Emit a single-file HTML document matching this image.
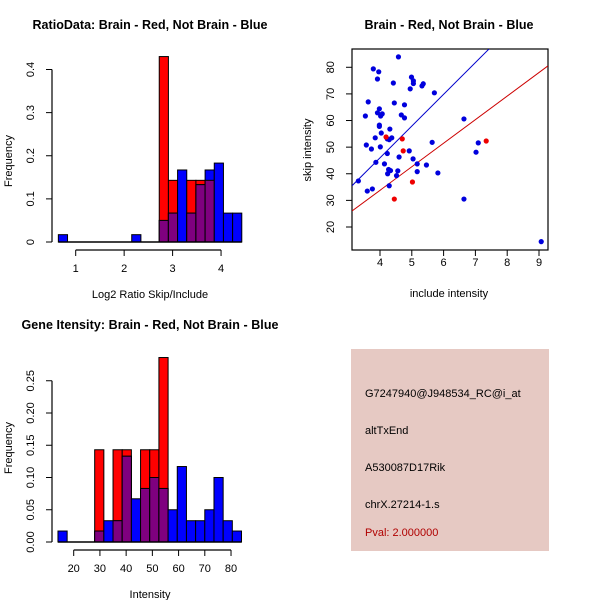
<!DOCTYPE html>
<html><head><meta charset="utf-8"><style>
html,body{margin:0;padding:0;background:#fff}
svg{display:block;font-family:"Liberation Sans",sans-serif}
</style></head><body>
<svg id="s" width="600" height="600" xmlns="http://www.w3.org/2000/svg">
<text x="150" y="29" font-size="12.5" font-weight="bold" text-anchor="middle" textLength="235">RatioData: Brain - Red, Not Brain - Blue</text>
<text x="449" y="29" font-size="12.5" font-weight="bold" text-anchor="middle" textLength="169">Brain - Red, Not Brain - Blue</text>
<text x="150" y="329" font-size="12.5" font-weight="bold" text-anchor="middle" textLength="257">Gene Itensity: Brain - Red, Not Brain - Blue</text>
<text x="150" y="298" font-size="11" text-anchor="middle">Log2 Ratio Skip/Include</text>
<text x="150" y="598" font-size="11" text-anchor="middle">Intensity</text>
<text x="449" y="297" font-size="11" text-anchor="middle">include intensity</text>
<text transform="translate(12,161) rotate(-90)" font-size="11" text-anchor="middle">Frequency</text>
<text transform="translate(12,448) rotate(-90)" font-size="11" text-anchor="middle">Frequency</text>
<text transform="translate(311,150) rotate(-90)" font-size="11" text-anchor="middle">skip intensity</text>
<g>
<rect x="351" y="349" width="198" height="202" fill="#e6c9c3"/>
<text x="365" y="397" font-size="11">G7247940@J948534_RC@i_at</text>
<text x="365" y="434" font-size="11">altTxEnd</text>
<text x="365" y="471" font-size="11">A530087D17Rik</text>
<text x="365" y="508" font-size="11">chrX.27214-1.s</text>
<text x="365" y="536" font-size="11" fill="#b00000">Pval: 2.000000</text>
</g>
</svg>
<script>
// ---- Ratio histogram data ----
const ratioBinStart = 0.642;
const ratioBinWidth = 0.1893;
const ratioRed =  [0,0,0,0,0,0,0,0,0,0,0,0.43,0.143,0,0.143,0.143,0.143,0,0,0];
const ratioBlue = [0.017,0,0,0,0,0,0,0,0.017,0,0,0.05,0.067,0.167,0.067,0.133,0.167,0.183,0.067,0.067];
const ratioXTicks = [1,2,3,4];
const ratioYTicks = [0,0.1,0.2,0.3,0.4];
// ---- Intensity histogram data ----
const intBinStart = 14;
const intBinWidth = 3.5;
const intRed =  [0,0,0,0,0.143,0,0.143,0.143,0,0.143,0.143,0.286,0,0,0,0,0,0,0,0];
const intBlue = [0.017,0,0,0,0.017,0.033,0.033,0.133,0.067,0.083,0.1,0.083,0.05,0.117,0.033,0.033,0.05,0.1,0.033,0.017];
const intXTicks = [20,30,40,50,60,70,80];
const intYTicks = ["0.00","0.05","0.10","0.15","0.20","0.25"];
// ---- Scatter data ----
const blueX = [4.58,3.79,3.96,3.92,4.42,4.99,5.05,5.05,4.95,5.36,5.32,5.71,3.63,4.45,4.77,3.54,3.92,3.98,4.02,4.07,4.67,4.77,3.98,3.98,4.31,4.04,3.85,4.23,4.37,4.29,3.57,4.01,3.73,4.23,4.92,4.6,5.04,3.87,4.14,5.17,5.46,4.27,4.33,4.56,5.17,4.24,5.82,4.52,3.32,4.29,3.76,3.6,6.64,6.64,5.64,7.09,7.02,9.07];
const blueY = [83.9,79.4,78.3,75.6,74.1,76.3,74.9,73.9,71.9,73.8,73.0,70.4,67.0,66.6,65.9,61.7,62.9,64.4,61.7,62.5,62.1,61.0,58.3,57.8,56.8,55.3,53.5,53.1,53.5,52.8,50.8,50.1,49.3,47.6,48.6,46.3,45.6,44.3,43.7,43.7,43.3,41.6,41.2,41.1,40.8,40.0,40.3,39.3,37.3,35.5,34.3,33.5,30.5,60.6,51.8,51.6,48.1,14.5];
const redX = [4.19,4.7,4.73,5.02,4.45,7.34];
const redY = [53.8,53.1,48.6,36.9,30.5,52.3];
const redLine = [3.12,26.0,9.28,80.5];
const blueLine = [3.12,35.5,7.43,86.9];
const scXTicks = [4,5,6,7,8,9];
const scYTicks = [20,30,40,50,60,70,80];

const NS="http://www.w3.org/2000/svg";
const svg=document.getElementById('s');
function mk(t,a,p){const e=document.createElementNS(NS,t);for(const k in a)e.setAttribute(k,a[k]);(p||svg).appendChild(e);return e;}

function hist(name,binStart,binW,red,blue,xTicks,yTicks,sx,sy,yAxisX,xAxisY){
  const g=mk('g',{});
  
  
  for(let i=0;i<red.length;i++){
    const x0=sx(binStart+i*binW),x1=sx(binStart+(i+1)*binW);
    const r=red[i],b=blue[i],m=Math.min(r,b);
    if(r>0){const e=mk('rect',{x:x0,y:sy(r),width:x1-x0,height:sy(0)-sy(r),fill:'#ff0000',stroke:'#000','stroke-width':1},g);
      
      }
    if(b>0){const e=mk('rect',{x:x0,y:sy(b),width:x1-x0,height:sy(0)-sy(b),fill:'#0000ff',stroke:'#000','stroke-width':1},g);
      
      }
    if(m>0){const e=mk('rect',{x:x0,y:sy(m),width:x1-x0,height:sy(0)-sy(m),fill:'#7f007f',stroke:'#000','stroke-width':1},g);
      
      }
  }
  const base=mk('line',{x1:sx(binStart),x2:sx(binStart+red.length*binW),y1:sy(0),y2:sy(0),stroke:'#000','stroke-width':1.5},g);
  
  
  const xa=mk('g',{},g);
  
  
  mk('line',{x1:sx(xTicks[0]),x2:sx(xTicks[xTicks.length-1]),y1:xAxisY,y2:xAxisY,stroke:'#000','stroke-width':1.2},xa);
  xTicks.forEach(t=>{mk('line',{x1:sx(t),x2:sx(t),y1:xAxisY,y2:xAxisY+6,stroke:'#000'},xa);
    const tx=mk('text',{x:sx(t),y:xAxisY+22,'font-size':11,'text-anchor':'middle'},xa);tx.textContent=t;
    
    });
  const ya=mk('g',{},g);
  
  
  mk('line',{x1:yAxisX,x2:yAxisX,y1:sy(0),y2:sy(+yTicks[yTicks.length-1]),stroke:'#000','stroke-width':1.2},ya);
  yTicks.forEach(t=>{const y=sy(+t);mk('line',{x1:yAxisX-6,x2:yAxisX,y1:y,y2:y,stroke:'#000'},ya);
    const tx=mk('text',{transform:`translate(${yAxisX-18},${y}) rotate(-90)`,'font-size':11,'text-anchor':'middle'},ya);tx.textContent=t;
    
    });
}
hist('ratio-histogram',ratioBinStart,ratioBinWidth,ratioRed,ratioBlue,ratioXTicks,ratioYTicks,
  v=>75.7+(v-1)*48.45, v=>242-v*431.25, 52, 250);
hist('intensity-histogram',intBinStart,intBinWidth,intRed,intBlue,intXTicks,intYTicks,
  v=>73.7+(v-20)*2.622, v=>542-v*645, 52, 550);

// scatter
const sx=v=>380+(v-4)*31.8, sy=v=>227-(v-20)*2.662;
const sg=mk('g',{});


const box=mk('rect',{x:352,y:49,width:196,height:201,fill:'none',stroke:'#000','stroke-width':1.2},sg);


const cp=mk('clipPath',{id:'cp'},sg);mk('rect',{x:352,y:49,width:196,height:201},cp);
const l1=mk('line',{x1:sx(redLine[0]),y1:sy(redLine[1]),x2:sx(redLine[2]),y2:sy(redLine[3]),stroke:'#cc0000','stroke-width':1,'clip-path':'url(#cp)'},sg);


const l2=mk('line',{x1:sx(blueLine[0]),y1:sy(blueLine[1]),x2:sx(blueLine[2]),y2:sy(blueLine[3]),stroke:'#0000cc','stroke-width':1,'clip-path':'url(#cp)'},sg);


blueX.forEach((x,i)=>{const c=mk('circle',{cx:sx(x),cy:sy(blueY[i]),r:2.6,fill:'#0000dd'},sg);
  
  });
redX.forEach((x,i)=>{const c=mk('circle',{cx:sx(x),cy:sy(redY[i]),r:2.6,fill:'#ee0000'},sg);
  
  });
scXTicks.forEach(t=>{mk('line',{x1:sx(t),x2:sx(t),y1:250,y2:256,stroke:'#000'},sg);
  const tx=mk('text',{x:sx(t),y:266,'font-size':11,'text-anchor':'middle'},sg);tx.textContent=t;
  
  });
scYTicks.forEach(t=>{mk('line',{x1:346,x2:352,y1:sy(t),y2:sy(t),stroke:'#000'},sg);
  const tx=mk('text',{transform:`translate(334,${sy(t)}) rotate(-90)`,'font-size':11,'text-anchor':'middle'},sg);tx.textContent=t;
  
  });
</script>
</body></html>
